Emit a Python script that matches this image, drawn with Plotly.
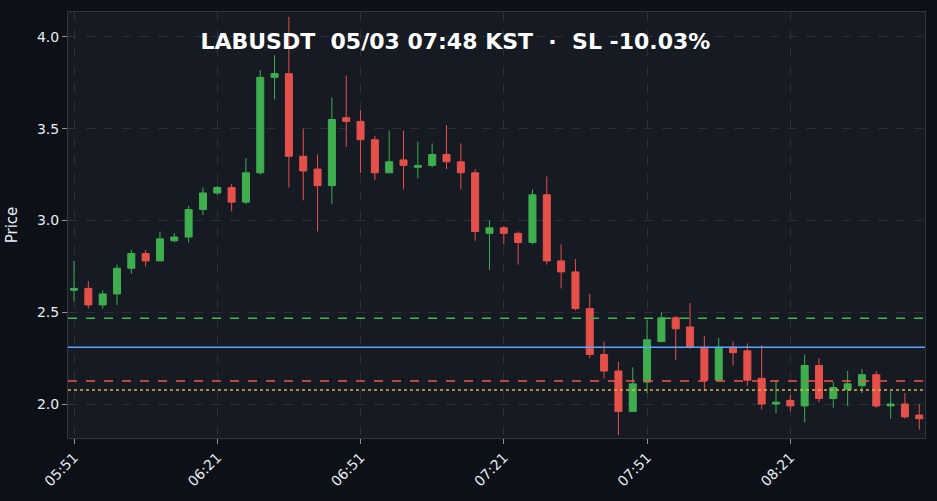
import plotly.graph_objects as go
import pandas as pd

times = pd.date_range("2024-05-03 05:51", periods=60, freq="3min")
opens  = [2.62,2.63,2.54,2.60,2.74,2.82,2.78,2.89,2.91,3.06,3.15,3.18,3.10,3.26,3.78,3.80,3.35,3.28,3.19,3.56,
          3.54,3.44,3.26,3.33,3.29,3.30,3.36,3.32,3.26,2.93,2.96,2.93,2.88,3.14,2.78,2.72,2.52,2.27,2.18,1.96,
          2.12,2.34,2.47,2.42,2.31,2.13,2.31,2.29,2.14,2.00,2.02,1.99,2.21,2.03,2.08,2.10,2.16,1.99,2.00,1.94]
highs  = [2.78,2.67,2.62,2.76,2.84,2.84,2.94,2.93,3.08,3.18,3.19,3.20,3.34,3.82,3.90,4.11,3.50,3.36,3.67,3.79,
          3.60,3.46,3.49,3.49,3.43,3.42,3.52,3.42,3.28,3.00,2.97,2.94,3.17,3.24,2.87,2.79,2.60,2.34,2.23,2.20,
          2.46,2.50,2.48,2.55,2.37,2.36,2.34,2.33,2.32,2.13,2.05,2.27,2.25,2.12,2.18,2.19,2.18,2.07,2.06,2.00]
lows   = [2.56,2.52,2.52,2.54,2.71,2.75,2.78,2.88,2.88,3.03,3.14,3.05,3.09,3.25,3.66,3.18,3.11,2.94,3.09,3.40,
          3.26,3.22,3.26,3.17,3.23,3.29,3.28,3.17,2.89,2.73,2.87,2.76,2.87,2.76,2.63,2.51,2.25,2.14,1.83,1.96,
          2.06,2.34,2.24,2.30,2.07,2.12,2.21,2.10,1.97,1.95,1.96,1.90,2.01,1.98,1.99,2.06,1.98,1.92,1.92,1.86]
closes = [2.63,2.54,2.60,2.74,2.82,2.78,2.90,2.91,3.06,3.15,3.18,3.10,3.26,3.78,3.80,3.35,3.27,3.19,3.55,3.54,
          3.44,3.26,3.32,3.30,3.30,3.36,3.32,3.26,2.94,2.96,2.93,2.88,3.14,2.78,2.72,2.52,2.27,2.18,1.96,2.11,
          2.35,2.47,2.41,2.31,2.13,2.31,2.28,2.13,2.00,2.01,1.99,2.21,2.03,2.09,2.11,2.16,1.99,2.00,1.93,1.92]

entry_level = 2.31
tp_level = 2.467
sl_level = 2.125
liq_level = 2.076
tick_vals = pd.date_range("2024-05-03 05:51", periods=6, freq="30min")
tick_text = [t.strftime("%H:%M") for t in tick_vals]
title = "LABUSDT  05/03 07:48 KST  ·  SL -10.03%"

fig = go.Figure(go.Candlestick(
    x=times, open=opens, high=highs, low=lows, close=closes,
    increasing=dict(line=dict(color="#3fae4f", width=1), fillcolor="#3fae4f"),
    decreasing=dict(line=dict(color="#e5504a", width=1), fillcolor="#e5504a"),
    whiskerwidth=0, showlegend=False))

fig.add_hline(y=tp_level, line=dict(color="#3fb950", width=1.5, dash="dash"))
fig.add_hline(y=entry_level, line=dict(color="#58a6ff", width=1.5))
fig.add_hline(y=sl_level, line=dict(color="#f85149", width=1.5, dash="dash"))
fig.add_hline(y=liq_level, line=dict(color="#e3b341", width=1.5, dash="dot"))

x0 = times[0] - pd.Timedelta(seconds=0.42*180)
x1 = times[0] + pd.Timedelta(seconds=59.4*180)
fig.update_layout(
    width=937, height=501,
    paper_bgcolor="#0d1117", plot_bgcolor="#161a22",
    margin=dict(l=67, r=11, t=11, b=63),
    title=dict(text=f"<b>{title}</b>", x=0.486, xanchor="center", y=0.918, yanchor="middle",
               font=dict(color="white", size=22, family="DejaVu Sans")),
    font=dict(color="#e6edf3", family="DejaVu Sans", size=14),
    xaxis=dict(range=[x0, x1], tickvals=tick_vals, ticktext=tick_text, tickangle=-45,
               rangeslider=dict(visible=False), showgrid=True, gridcolor="#2a2f38",
               griddash="dash", zeroline=False, ticks="outside", tickcolor="#8b949e",
               showline=True, linecolor="#30363d", mirror=True),
    yaxis=dict(range=[1.815, 4.136], title=dict(text="Price", font=dict(size=15)), tickformat=".1f", dtick=0.5,
               showgrid=True, gridcolor="#2a2f38", griddash="dash", zeroline=False,
               ticks="outside", tickcolor="#8b949e",
               showline=True, linecolor="#30363d", mirror=True),
)
fig.write_html("out.html", config={"displayModeBar": False},
               post_script="document.body.style.margin='0';document.body.style.background='#0d1117';")
